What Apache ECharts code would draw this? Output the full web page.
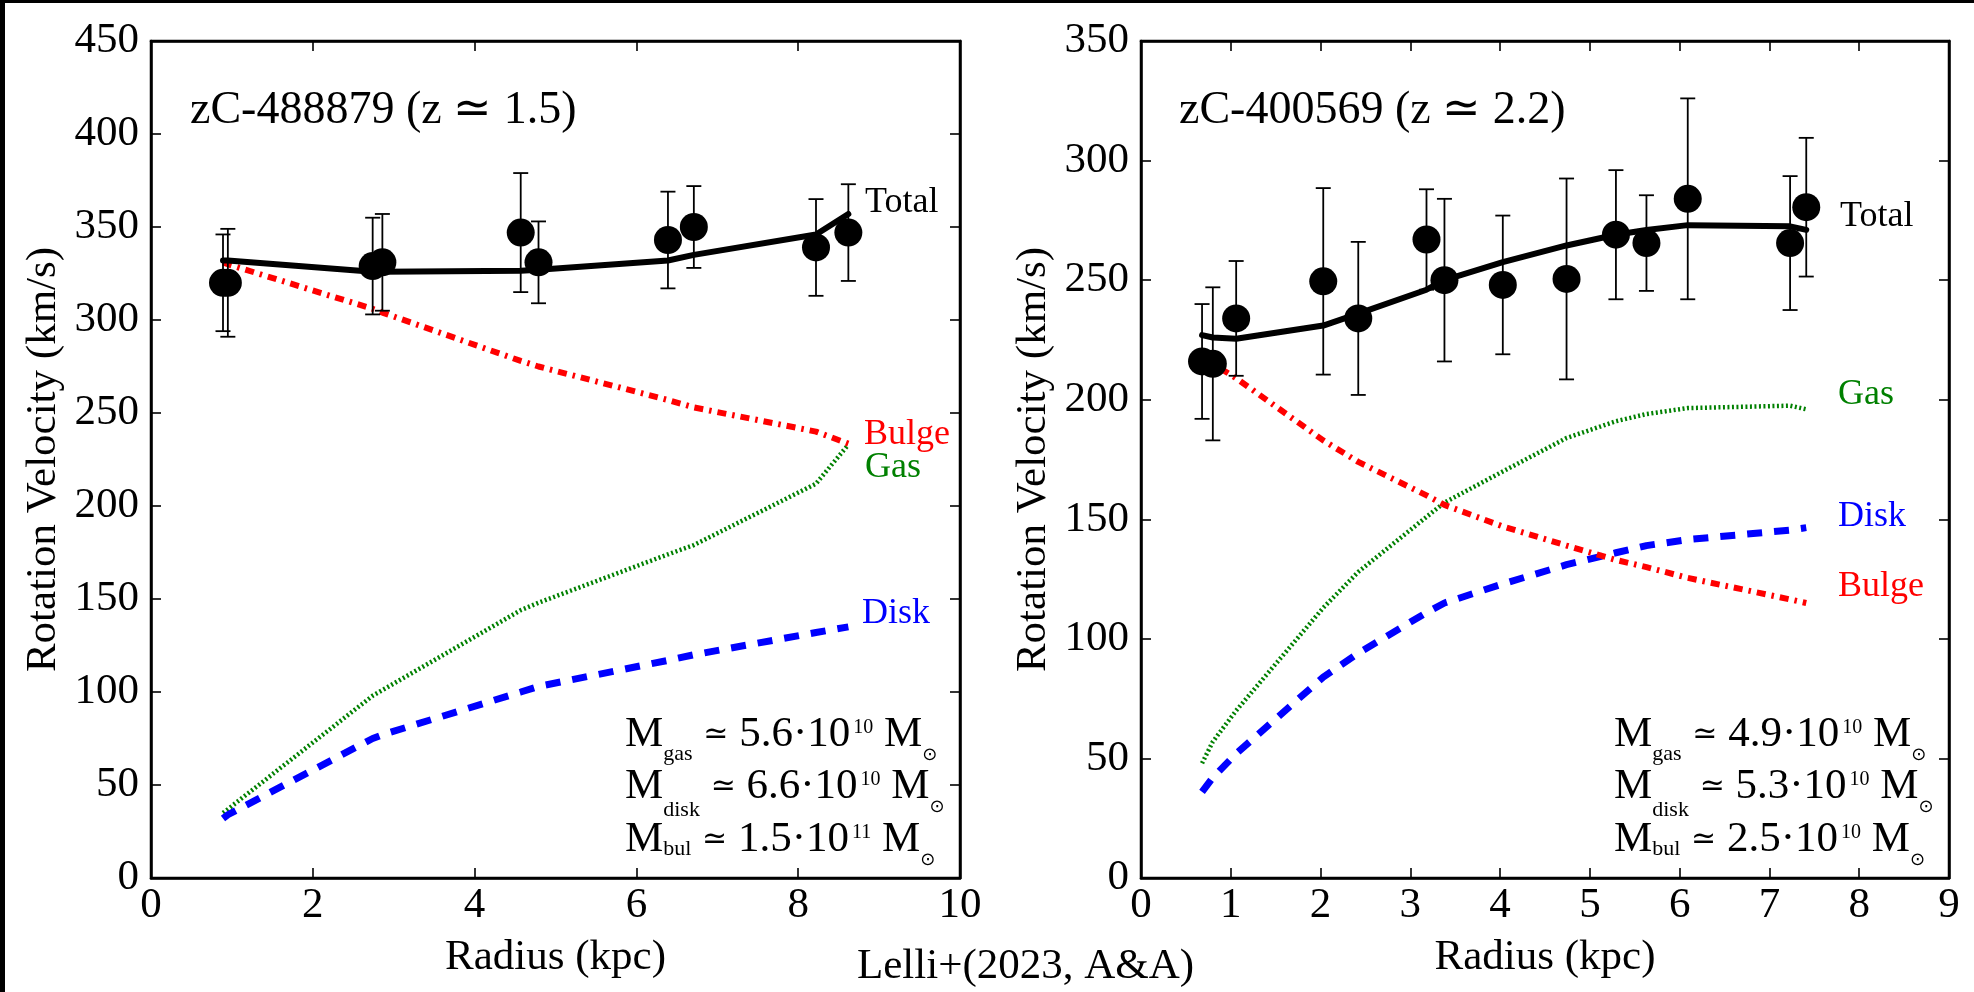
<!DOCTYPE html>
<html><head><meta charset="utf-8">
<script src="https://cdn.jsdelivr.net/npm/echarts@6/dist/echarts.min.js"></script>
<style>html,body{margin:0;padding:0;background:#fff;}#c{width:1974px;height:992px;}</style>
</head><body><div id="c"></div>
<script>
// ---------- Panel A : zC-488879 ----------
const radiusA = [0.89, 0.95, 2.74, 2.86, 4.57, 4.79, 6.39, 6.71, 8.22, 8.62];
const velA    = [320, 320, 329, 331, 347, 331, 343, 350, 339, 347];
const errA    = [26, 29, 26, 26, 32, 22, 26, 22, 26, 26];
const totalA  = [332, 332, 326, 326, 326.5, 327, 332, 335, 346, 357];
const bulgeA  = [331, 330, 306, 304, 278, 275, 257, 253, 240, 233.5];
const gasA    = [35, 37, 98, 101, 144, 148, 174, 179, 212, 233];
const diskA   = [32, 34, 75, 77, 100, 103, 117, 120, 132, 135];
// ---------- Panel B : zC-400569 ----------
const radiusB = [0.68, 0.80, 1.06, 2.03, 2.42, 3.18, 3.38, 4.03, 4.74, 5.29, 5.63, 6.09, 7.23, 7.41];
const velB    = [216, 215, 234, 249.5, 234, 267, 250, 248, 250.5, 269, 265.5, 284, 265.5, 280.5];
const errB    = [24, 32, 24, 39, 32, 21, 34, 29, 42, 27, 20, 42, 28, 29];
const totalB  = [227, 226, 225.5, 231, 236, 246, 250, 257.5, 264.5, 269, 271, 273, 272.5, 271];
const gasB    = [48, 57, 70, 113, 128, 151, 157, 170, 184, 191, 194, 196.5, 197.5, 196];
const diskB   = [36, 42, 52, 84, 94, 111, 115, 123, 131, 136, 139, 141.5, 145.5, 146.5];
const bulgeB  = [219, 215, 209, 183, 174, 160, 156, 147, 139, 133, 130, 125.5, 116.5, 115];
// ---------- texts ----------
const titleA = 'zC-488879 (z \u2243 1.5)';
const titleB = 'zC-400569 (z \u2243 2.2)';
const massA = [['gas','5.6','10'],['disk','6.6','10'],['bul','1.5','11']];
const massB = [['gas','4.9','10'],['disk','5.3','10'],['bul','2.5','10']];
const xName = 'Radius (kpc)';
const yName = 'Rotation Velocity (km/s)';
const credit = 'Lelli+(2023, A&A)';

const FF = 'Liberation Serif';
const zip = (xs, ys) => xs.map((x, i) => [x, ys[i]]);

function axisPair(gi, max, interval, isX, name, gap) {
  const common = {
    gridIndex: gi, type: 'value', min: 0, max: max, interval: interval,
    splitLine: {show: false},
    axisLine: {show: true, onZero: false, lineStyle: {color: '#000', width: 2.5}},
    axisTick: {show: true, inside: true, length: 10, lineStyle: {color: '#000', width: 1.6}}
  };
  const main = Object.assign({}, common, {
    position: isX ? 'bottom' : 'left',
    axisLabel: {show: true, fontFamily: FF, fontSize: 43, color: '#000', margin: isX ? 6 : 12,
                showMinLabel: true, showMaxLabel: true, hideOverlap: false},
    name: name, nameLocation: 'middle', nameGap: gap,
    nameTextStyle: {fontFamily: FF, fontSize: 43, color: '#000'}
  });
  const mirror = Object.assign({}, common, {
    position: isX ? 'top' : 'right', axisLabel: {show: false}
  });
  return [main, mirror];
}

function errData(r, v, e) { return r.map((x, i) => [x, v[i] - e[i], v[i] + e[i]]); }

function errSeries(xi, yi, data) {
  return {
    type: 'custom', xAxisIndex: xi, yAxisIndex: yi, data: data, z: 4,
    renderItem: function (params, api) {
      const lo = api.coord([api.value(0), api.value(1)]);
      const hi = api.coord([api.value(0), api.value(2)]);
      const w = 7.5, st = {stroke: '#000', lineWidth: 1.8};
      return {type: 'group', children: [
        {type: 'line', shape: {x1: lo[0], y1: lo[1], x2: hi[0], y2: hi[1]}, style: st},
        {type: 'line', shape: {x1: lo[0] - w, y1: lo[1], x2: lo[0] + w, y2: lo[1]}, style: st},
        {type: 'line', shape: {x1: hi[0] - w, y1: hi[1], x2: hi[0] + w, y2: hi[1]}, style: st}
      ]};
    }
  };
}

function modelSeries(xi, yi, r, total, bulge, gas, disk) {
  const base = {type: 'line', xAxisIndex: xi, yAxisIndex: yi, showSymbol: false, symbol: 'none',
                silent: true, smooth: false};
  return [
    Object.assign({}, base, {data: zip(r, gas), z: 2,
      lineStyle: {color: '#008000', width: 4.5, type: [2, 2.5], opacity: 1}}),
    Object.assign({}, base, {data: zip(r, disk), z: 2,
      lineStyle: {color: '#0000ff', width: 7, type: [15, 12], opacity: 1}}),
    Object.assign({}, base, {data: zip(r, bulge), z: 2,
      lineStyle: {color: '#ff0000', width: 6, type: [9, 6, 2.5, 6], opacity: 1}}),
    Object.assign({}, base, {data: zip(r, total), z: 3,
      lineStyle: {color: '#000', width: 6, join: 'round', cap: 'round', opacity: 1}})
  ];
}

function pointSeries(xi, yi, r, v) {
  return {type: 'scatter', xAxisIndex: xi, yAxisIndex: yi, data: zip(r, v),
          symbol: 'circle', symbolSize: 28, itemStyle: {color: '#000', opacity: 1}, z: 5};
}

function txt(text, x, y, size, color) {
  return {type: 'text', silent: true, style: {text: text, x: x, y: y, fill: color || '#000',
    fontFamily: FF, fontSize: size, align: 'left', verticalAlign: 'middle',
    textAlign: 'left', textVerticalAlign: 'middle'}};
}

const subShift = {gas: 19, disk: 23, bul: 9};
function massText(m, x, y) {
  const sh = subShift[m[0]];
  return {type: 'text', silent: true, style: {
    text: '{m|M}{s|' + m[0] + '}{m| }{e|\u2243}{m| ' + m[1] + '\u00b710}{p|' + m[2] + '}{m| M}{o|\u2299}',
    x: x, y: y, align: 'left', verticalAlign: 'middle', textAlign: 'left', textVerticalAlign: 'middle',
    rich: {
      m: {fontFamily: FF, fontSize: 43, fill: '#000', verticalAlign: 'middle'},
      s: {fontFamily: FF, fontSize: 22, fill: '#000', verticalAlign: 'middle', padding: [2 * sh, 0, 0, 0]},
      e: {fontFamily: 'DejaVu Serif', fontSize: 30, fill: '#000', verticalAlign: 'middle'},
      p: {fontFamily: FF, fontSize: 20, fill: '#000', verticalAlign: 'middle', padding: [0, 0, 14, 3]},
      o: {fontFamily: 'DejaVu Sans', fontSize: 18, fill: '#000', verticalAlign: 'middle', padding: [40, 0, 0, 0]}
    }}};
}

const xA = axisPair(0, 10, 2, true, xName, 58);
const xB = axisPair(1, 9, 1, true, xName, 58);
const yA = axisPair(0, 450, 50, false, yName, 86);
const yB = axisPair(1, 350, 50, false, yName, 86);

const option = {
  animation: false,
  backgroundColor: '#fff',
  textStyle: {fontFamily: FF},
  grid: [
    {left: 151, top: 41, width: 809, height: 837, show: true, borderColor: '#000', borderWidth: 2.5, outerBoundsMode: 'none'},
    {left: 1141, top: 41, width: 808, height: 837, show: true, borderColor: '#000', borderWidth: 2.5, outerBoundsMode: 'none'}
  ],
  xAxis: [xA[0], xA[1], xB[0], xB[1]],
  yAxis: [yA[0], yA[1], yB[0], yB[1]],
  series: [].concat(
    modelSeries(0, 0, radiusA, totalA, bulgeA, gasA, diskA),
    [errSeries(0, 0, errData(radiusA, velA, errA)), pointSeries(0, 0, radiusA, velA)],
    modelSeries(2, 2, radiusB, totalB, bulgeB, gasB, diskB),
    [errSeries(2, 2, errData(radiusB, velB, errB)), pointSeries(2, 2, radiusB, velB)]
  ),
  graphic: [
    {type: 'rect', silent: true, shape: {x: 0, y: 0, width: 5, height: 992}, style: {fill: '#000'}},
    {type: 'rect', silent: true, shape: {x: 0, y: 0, width: 1974, height: 3}, style: {fill: '#000'}},
    txt(titleA, 190, 111, 46),
    txt(titleB, 1179, 111, 46),
    txt('Total', 865, 203, 36),
    txt('Bulge', 864, 435, 36, '#ff0000'),
    txt('Gas', 865, 468, 36, '#008000'),
    txt('Disk', 862, 614, 36, '#0000ff'),
    txt('Total', 1840, 217, 36),
    txt('Gas', 1838, 395, 36, '#008000'),
    txt('Disk', 1838, 517, 36, '#0000ff'),
    txt('Bulge', 1838, 587, 36, '#ff0000'),
    massText(massA[0], 625, 735), massText(massA[1], 625, 787), massText(massA[2], 625, 840),
    massText(massB[0], 1614, 735), massText(massB[1], 1614, 787), massText(massB[2], 1614, 840),
    txt(credit, 857, 967, 43)
  ]
};
const chart = echarts.init(document.getElementById('c'));
chart.setOption(option);
</script></body></html>
